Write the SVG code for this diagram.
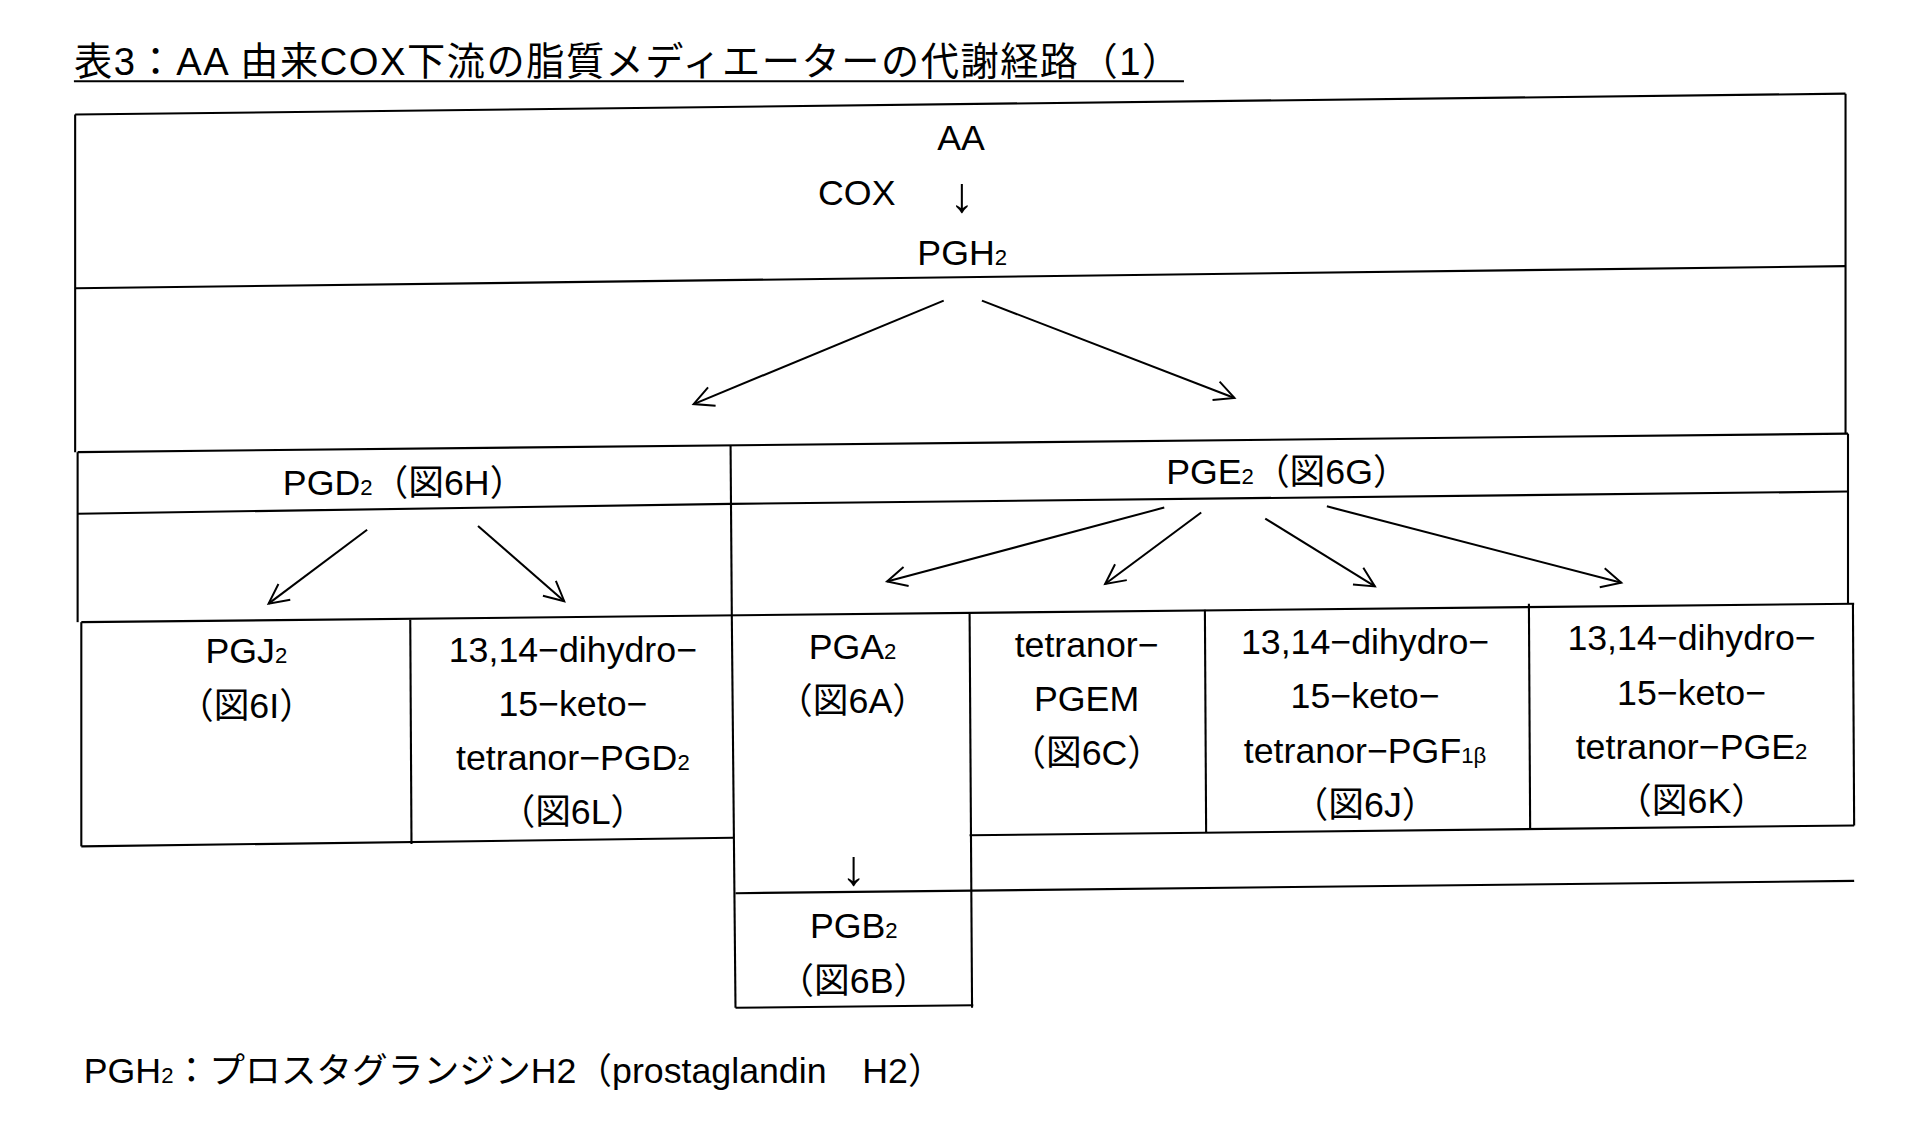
<svg xmlns="http://www.w3.org/2000/svg" width="1930" height="1138" viewBox="0 0 1930 1138">
<defs>
<marker id="ah" viewBox="0 0 20 20" refX="18" refY="10" markerWidth="20" markerHeight="20" markerUnits="userSpaceOnUse" orient="auto"><path d="M2,2 L18,10 L2,18" fill="none" stroke="#000" stroke-width="1.6"/></marker>
<style>
text{font-family:"Liberation Sans","Noto Sans CJK JP",sans-serif;font-size:29px;fill:#000}
.c{text-anchor:middle}
.s{font-size:18px}
.ar{font-size:40px}
line,polyline{stroke:#000;stroke-width:1.7;fill:none}
</style>
</defs>
<rect width="1930" height="1138" fill="#fff"/>
<g transform="scale(1.232)">
<g id="title"><text x="60" y="61" style="font-size:31px" textLength="898" lengthAdjust="spacing">表3：AA 由来COX下流の脂質メディエーターの代謝経路（1）</text><line x1="60" y1="66" x2="961" y2="66"/></g>
<g id="grid">
<line x1="61" y1="93" x2="1498" y2="76"/>
<line x1="61" y1="93" x2="61" y2="367"/>
<line x1="1498" y1="76" x2="1498" y2="352"/>
<line x1="61" y1="234" x2="1498" y2="216"/>
<line x1="63" y1="367" x2="1500" y2="352"/>
<line x1="1500" y1="352" x2="1500" y2="490"/>
<line x1="63" y1="367" x2="63" y2="505"/>
<line x1="63" y1="417" x2="593" y2="409"/>
<line x1="593" y1="409" x2="1500" y2="399"/>
<line x1="593" y1="362" x2="594" y2="500"/>
<line x1="66" y1="505" x2="1505" y2="490"/>
<line x1="66" y1="505" x2="66" y2="687"/>
<line x1="333" y1="503" x2="334" y2="685"/>
<line x1="594" y1="500" x2="597" y2="818"/>
<line x1="787" y1="497" x2="789" y2="818"/>
<line x1="978" y1="495" x2="979" y2="676"/>
<line x1="1241" y1="490" x2="1242" y2="672"/>
<line x1="1504" y1="490" x2="1505" y2="670"/>
<line x1="66" y1="687" x2="595" y2="680"/>
<line x1="787" y1="678" x2="1505" y2="670"/>
<line x1="597" y1="725" x2="1505" y2="715"/>
<line x1="597" y1="818" x2="790" y2="816"/>
</g>
<g id="connectors">
<line x1="766" y1="244" x2="563" y2="328" marker-end="url(#ah)"/>
<line x1="797" y1="244" x2="1002" y2="323" marker-end="url(#ah)"/>
<line x1="298" y1="430" x2="218" y2="490" marker-end="url(#ah)"/>
<line x1="388" y1="427" x2="458" y2="488" marker-end="url(#ah)"/>
<line x1="945" y1="412" x2="720" y2="472" marker-end="url(#ah)"/>
<line x1="975" y1="416" x2="897" y2="474" marker-end="url(#ah)"/>
<line x1="1027" y1="421" x2="1116" y2="476" marker-end="url(#ah)"/>
<line x1="1077" y1="411" x2="1316" y2="473" marker-end="url(#ah)"/>
</g>
<g id="n-aa"><text class="c" x="780" y="122">AA</text><text x="664" y="166">COX</text><text class="c ar" x="781" y="172">↓</text><text class="c" x="781" y="215">PGH<tspan class="s">2</tspan></text></g>
<g id="n-pgd2"><text class="c" x="328" y="402">PGD<tspan class="s">2</tspan>（図6H）</text></g>
<g id="n-pge2"><text class="c" x="1045" y="393">PGE<tspan class="s">2</tspan>（図6G）</text></g>
<g id="n-pgj2"><text class="c" x="200" y="538">PGJ<tspan class="s">2</tspan></text><text class="c" x="200" y="583">（図6I）</text></g>
<g id="n-pgd2m"><text class="c" x="465" y="537">13,14−dihydro−</text><text class="c" x="465" y="581">15−keto−</text><text class="c" x="465" y="625">tetranor−PGD<tspan class="s">2</tspan></text><text class="c" x="465" y="669">（図6L）</text></g>
<g id="n-pga2"><text class="c" x="692" y="535">PGA<tspan class="s">2</tspan></text><text class="c" x="692" y="579">（図6A）</text><text class="c ar" x="693" y="718">↓</text></g>
<g id="n-pgem"><text class="c" x="882" y="533">tetranor−</text><text class="c" x="882" y="577">PGEM</text><text class="c" x="882" y="621">（図6C）</text></g>
<g id="n-pgf"><text class="c" x="1108" y="531">13,14−dihydro−</text><text class="c" x="1108" y="575">15−keto−</text><text class="c" x="1108" y="619">tetranor−PGF<tspan class="s">1β</tspan></text><text class="c" x="1108" y="663">（図6J）</text></g>
<g id="n-pge2m"><text class="c" x="1373" y="528">13,14−dihydro−</text><text class="c" x="1373" y="572">15−keto−</text><text class="c" x="1373" y="616">tetranor−PGE<tspan class="s">2</tspan></text><text class="c" x="1373" y="660">（図6K）</text></g>
<g id="n-pgb2"><text class="c" x="693" y="761">PGB<tspan class="s">2</tspan></text><text class="c" x="693" y="806">（図6B）</text></g>
<g id="footer"><text x="68" y="879">PGH<tspan class="s">2</tspan>：プロスタグランジンH2（prostaglandin　H2）</text></g>
</g>
</svg>
